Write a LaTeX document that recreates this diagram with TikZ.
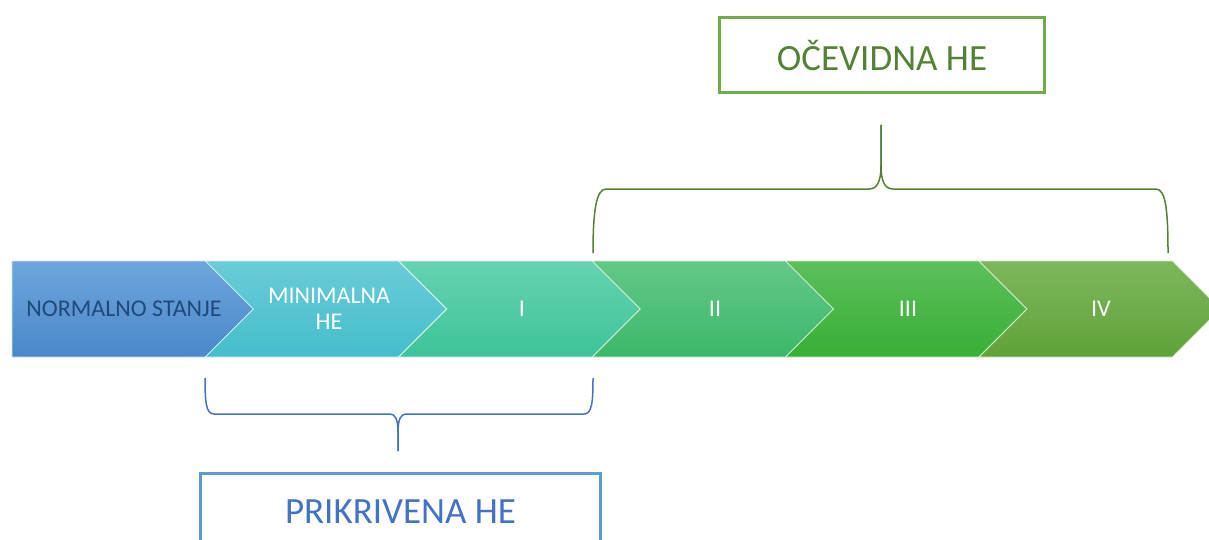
\documentclass[tikz,border=0pt]{standalone}
\usepackage{fontspec}
\setmainfont{Carlito}
\usepackage{xcolor}
\usepackage{tikz}
\usetikzlibrary{positioning}

\definecolor{normtop}{HTML}{6EA6DC}
\definecolor{normbot}{HTML}{4A88CA}
\definecolor{mintop}{HTML}{6BCBD9}
\definecolor{minbot}{HTML}{44BECB}
\definecolor{onetop}{HTML}{66D3B2}
\definecolor{onebot}{HTML}{3DC39A}
\definecolor{twotop}{HTML}{63C887}
\definecolor{twobot}{HTML}{3CB86A}
\definecolor{thrtop}{HTML}{5DBF5C}
\definecolor{thrbot}{HTML}{37AF35}
\definecolor{fourtop}{HTML}{7EB75D}
\definecolor{fourbot}{HTML}{5FA237}
\definecolor{normtext}{HTML}{1F4A7A}
\definecolor{ocgreen}{HTML}{548235}
\definecolor{ocframe}{HTML}{70AD47}
\definecolor{prblue}{HTML}{4472C4}
\definecolor{prframe}{HTML}{5B9BD5}

\begin{document}
\begin{tikzpicture}[
    x=0.5pt, y=-0.5pt,
    chev/.style 2 args={top color=#1, bottom color=#2, draw=white!70!#1, line width=0.4pt},
    phase/.style={text=white, align=center, font=\fontsize{12}{13}\selectfont},
    normal/.style={phase, text=normtext},
    ocbrace/.style={draw=ocgreen, line width=0.75pt},
    prbrace/.style={draw=prblue, line width=0.75pt},
    ocbox/.style={draw=ocframe, line width=1.5pt, minimum width=162.5pt, minimum height=37.5pt,
        text=ocgreen, font=\fontsize{18.5}{22}\selectfont},
    prbox/.style={draw=prframe, line width=1.5pt, minimum width=200pt, minimum height=38pt,
        text=prblue, font=\fontsize{18.5}{22}\selectfont}
]
\useasboundingbox (0,0) rectangle (1209,540);

% Chevrons
\path[chev={normtop}{normbot}] (12,261) -- (205.4,261) -- (253.4,309) -- (205.4,357) -- (12,357) -- cycle;
\path[chev={mintop}{minbot}] (205.4,261) -- (398.8,261) -- (446.8,309) -- (398.8,357) -- (205.4,357) -- (253.4,309) -- cycle;
\path[chev={onetop}{onebot}] (398.8,261) -- (592.2,261) -- (640.2,309) -- (592.2,357) -- (398.8,357) -- (446.8,309) -- cycle;
\path[chev={twotop}{twobot}] (592.2,261) -- (785.6,261) -- (833.6,309) -- (785.6,357) -- (592.2,357) -- (640.2,309) -- cycle;
\path[chev={thrtop}{thrbot}] (785.6,261) -- (979,261) -- (1027,309) -- (979,357) -- (785.6,357) -- (833.6,309) -- cycle;
\path[chev={fourtop}{fourbot}] (979,261) -- (1172.4,261) -- (1220.4,309) -- (1172.4,357) -- (979,357) -- (1027,309) -- cycle;

% Phase labels
\node[normal] (normal) at (124,309) {NORMALNO STANJE};
\node[phase] (minimal) at (329,309) {MINIMALNA\\HE};
\node[phase] (one) at (522,309) {I};
\node[phase] (two) at (715,309) {II};
\node[phase] (three) at (908,309) {III};
\node[phase] (four) at (1101,309) {IV};

% Braces
\coordinate (octip) at (881,125);
\coordinate (prtip) at (398,451);
\draw[ocbrace] (593,253) .. controls (593,212) and (596,189) .. (606,189) -- (869,189)
    .. controls (877,189) and (881,182) .. (881,165) -- (octip);
\draw[ocbrace] (octip) -- (881,165) .. controls (881,182) and (885,189) .. (893,189)
    -- (1156,189) .. controls (1166,189) and (1168,212) .. (1168,253);
\draw[prbrace] (205,378) .. controls (205,402) and (206,414) .. (214,414) -- (390,414)
    .. controls (395,414) and (398,419) .. (398,432) -- (prtip);
\draw[prbrace] (prtip) -- (398,432) .. controls (398,419) and (401,414) .. (406,414)
    -- (584,414) .. controls (592,414) and (593,402) .. (593,378);

% Boxes
\node[ocbox, above=15.5pt of octip, xshift=0.5pt] (ocevidna) {OČEVIDNA HE};
\node[prbox, below=10.5pt of prtip, xshift=1.25pt] (prikrivena) {PRIKRIVENA HE};

\end{tikzpicture}
\end{document}
